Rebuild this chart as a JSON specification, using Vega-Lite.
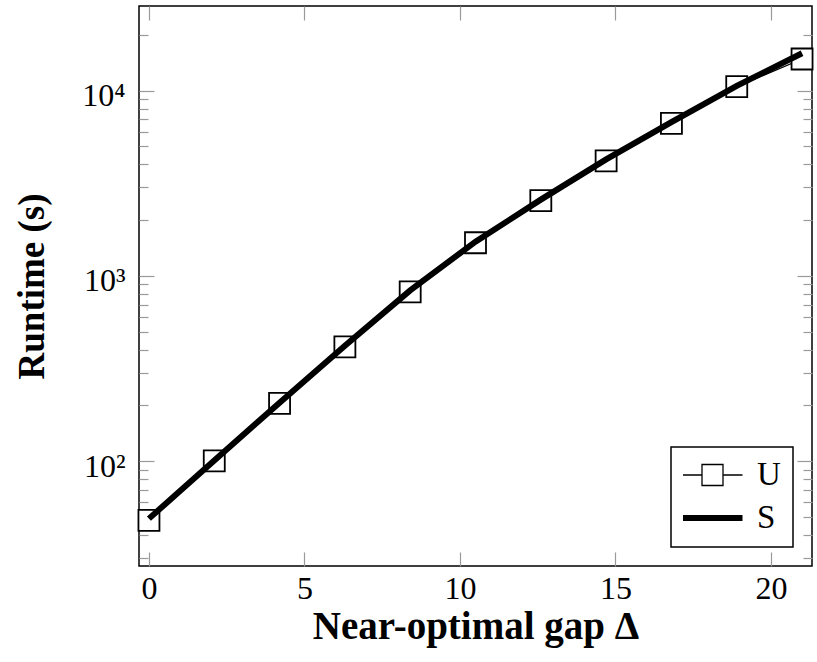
{
  "$schema": "https://vega.github.io/schema/vega-lite/v6.json",
  "width": 673,
  "height": 560,
  "autosize": "none",
  "padding": {"left": 139, "top": 6, "right": 5, "bottom": 96},
  "background": "white",
  "config": {
    "view": {"stroke": "black", "strokeWidth": 1.5},
    "axis": {
      "domain": false,
      "grid": false,
      "tickColor": "#9a9a9a",
      "tickWidth": 1.2,
      "labelFont": "Liberation Serif",
      "labelFontSize": 32,
      "labelColor": "black",
      "labelFlush": false,
      "labelOverlap": false,
      "titleFont": "Liberation Serif",
      "titleFontSize": 38,
      "titleFontWeight": "bold",
      "titleColor": "black"
    }
  },
  "datasets": {
    "runs": [
      {"series": "U", "gap": 0, "runtime": 48},
      {"series": "U", "gap": 2.1, "runtime": 100.5},
      {"series": "U", "gap": 4.2, "runtime": 205},
      {"series": "U", "gap": 6.3, "runtime": 414},
      {"series": "U", "gap": 8.4, "runtime": 820},
      {"series": "U", "gap": 10.5, "runtime": 1510},
      {"series": "U", "gap": 12.6, "runtime": 2550},
      {"series": "U", "gap": 14.7, "runtime": 4180},
      {"series": "U", "gap": 16.8, "runtime": 6650},
      {"series": "U", "gap": 18.9, "runtime": 10500},
      {"series": "U", "gap": 21, "runtime": 14800},
      {"series": "S", "gap": 0, "runtime": 49},
      {"series": "S", "gap": 2.1, "runtime": 101},
      {"series": "S", "gap": 4.2, "runtime": 207},
      {"series": "S", "gap": 6.3, "runtime": 420},
      {"series": "S", "gap": 8.4, "runtime": 835},
      {"series": "S", "gap": 10.5, "runtime": 1530},
      {"series": "S", "gap": 12.6, "runtime": 2580},
      {"series": "S", "gap": 14.7, "runtime": 4250},
      {"series": "S", "gap": 16.8, "runtime": 6750},
      {"series": "S", "gap": 18.9, "runtime": 10600},
      {"series": "S", "gap": 21, "runtime": 15900}
    ]
  },
  "data": {"name": "runs"},
  "resolve": {"axis": {"x": "independent", "y": "independent"}},
  "layer": [
    {
      "transform": [{"filter": "datum.series === 'U'"}],
      "mark": {"type": "line", "color": "black"},
      "encoding": {
        "x": {
          "field": "gap", "type": "quantitative",
          "scale": {"domain": [-0.32, 21.32], "nice": false, "zero": false},
          "axis": {
            "orient": "bottom", "values": [0, 5, 10, 15, 20],
            "tickSize": -14, "labelPadding": 46, "labelBaseline": "alphabetic",
            "title": "Near-optimal gap Δ", "titleBaseline": "alphabetic",
            "titleFontSize": 39,
            "titleY": 72, "titleX": 336.5
          }
        },
        "y": {
          "field": "runtime", "type": "quantitative",
          "scale": {"type": "log", "domain": [27.2, 28600], "nice": false},
          "axis": {
            "orient": "left", "values": [100, 1000, 10000],
            "labelExpr": "datum.value == 100 ? '10²' : datum.value == 1000 ? '10³' : '10⁴'",
            "tickSize": -15, "labelPadding": 29, "labelBaseline": "alphabetic", "labelOffset": 15,
            "title": "Runtime (s)", "titleX": -96, "titleY": 280,
            "titleFontSize": 37,
            "titleBaseline": "alphabetic", "titleAngle": -90
          }
        },
        "strokeWidth": {
          "field": "series", "type": "nominal",
          "scale": {"domain": ["U", "S"], "range": [1.3, 6]},
          "legend": {
            "title": null, "orient": "bottom-right", "offset": 19, "padding": 12,
            "strokeColor": "black", "fillColor": "white",
            "symbolSize": 400, "symbolOffset": 13, "labelOffset": 28,
            "clipHeight": 32, "rowPadding": 10,
            "labelFont": "Liberation Serif", "labelFontSize": 33, "labelColor": "black",
            "labelBaseline": "middle", "symbolStrokeColor": "black",
            "encode": {
              "legend": {"update": {"strokeWidth": {"value": 1.5}}},
              "symbols": {"update": {
                "shape": {"signal": "datum.value === 'U' ? 'M-3,0H-1.05M1.05,0H3M-1.05,-1.05H1.05V1.05H-1.05Z' : 'M-3,0H3'"},
                "fill": {"value": "white"},
                "stroke": {"value": "black"}
              }}
            }
          }
        }
      }
    },
    {
      "transform": [{"filter": "datum.series === 'U'"}],
      "mark": {"type": "point", "shape": "square", "size": 441, "filled": true, "fill": "white", "stroke": "black", "strokeWidth": 1.8, "opacity": 1},
      "encoding": {
        "x": {
          "field": "gap", "type": "quantitative",
          "scale": {"domain": [-0.32, 21.32], "nice": false, "zero": false},
          "axis": {"orient": "top", "values": [0, 5, 10, 15, 20], "tickSize": -14, "labels": false, "title": null}
        },
        "y": {
          "field": "runtime", "type": "quantitative",
          "scale": {"type": "log", "domain": [27.2, 28600], "nice": false},
          "axis": {
            "orient": "left",
            "values": [30, 40, 50, 60, 70, 80, 90, 200, 300, 400, 500, 600, 700, 800, 900, 2000, 3000, 4000, 5000, 6000, 7000, 8000, 9000, 20000],
            "tickSize": -9, "labels": false, "title": null
          }
        }
      }
    },
    {
      "transform": [{"filter": "datum.series === 'S'"}],
      "mark": {"type": "line", "color": "black"},
      "encoding": {
        "x": {
          "field": "gap", "type": "quantitative",
          "scale": {"domain": [-0.32, 21.32], "nice": false, "zero": false},
          "axis": null
        },
        "y": {
          "field": "runtime", "type": "quantitative",
          "scale": {"type": "log", "domain": [27.2, 28600], "nice": false},
          "axis": {"orient": "right", "values": [100, 1000, 10000], "tickSize": -15, "labels": false, "title": null}
        },
        "strokeWidth": {
          "field": "series", "type": "nominal",
          "scale": {"domain": ["U", "S"], "range": [1.3, 6]},
          "legend": {
            "title": null, "orient": "bottom-right", "offset": 19, "padding": 12,
            "strokeColor": "black", "fillColor": "white",
            "symbolSize": 400, "symbolOffset": 13, "labelOffset": 28,
            "clipHeight": 32, "rowPadding": 10,
            "labelFont": "Liberation Serif", "labelFontSize": 33, "labelColor": "black",
            "labelBaseline": "middle", "symbolStrokeColor": "black",
            "encode": {
              "legend": {"update": {"strokeWidth": {"value": 1.5}}},
              "symbols": {"update": {
                "shape": {"signal": "datum.value === 'U' ? 'M-3,0H-1.05M1.05,0H3M-1.05,-1.05H1.05V1.05H-1.05Z' : 'M-3,0H3'"},
                "fill": {"value": "white"},
                "stroke": {"value": "black"}
              }}
            }
          }
        }
      }
    },
    {
      "transform": [{"filter": "datum.series === 'S'"}],
      "mark": {"type": "point", "opacity": 0},
      "encoding": {
        "x": {
          "field": "gap", "type": "quantitative",
          "scale": {"domain": [-0.32, 21.32], "nice": false, "zero": false},
          "axis": null
        },
        "y": {
          "field": "runtime", "type": "quantitative",
          "scale": {"type": "log", "domain": [27.2, 28600], "nice": false},
          "axis": {
            "orient": "right",
            "values": [30, 40, 50, 60, 70, 80, 90, 200, 300, 400, 500, 600, 700, 800, 900, 2000, 3000, 4000, 5000, 6000, 7000, 8000, 9000, 20000],
            "tickSize": -9, "labels": false, "title": null
          }
        }
      }
    }
  ]
}
